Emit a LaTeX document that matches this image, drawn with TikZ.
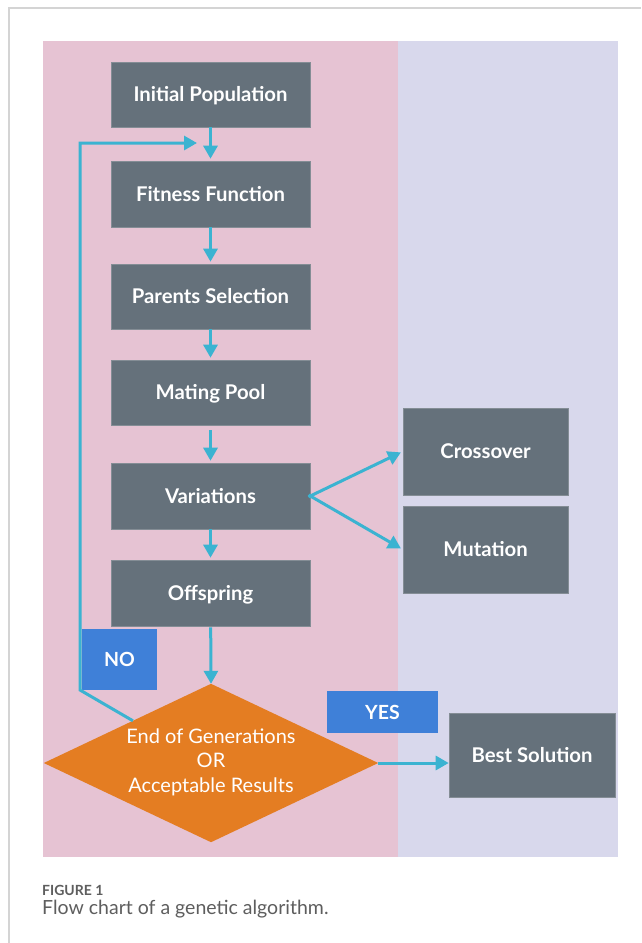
\documentclass[tikz,border=0pt]{standalone}
\usepackage{fontspec}
\setmainfont{Lato}
\usetikzlibrary{arrows.meta,calc}
\definecolor{pinkbg}{HTML}{E6C3D3}
\definecolor{lavbg}{HTML}{D8D8EC}
\definecolor{boxgray}{HTML}{65717B}
\definecolor{lblue}{HTML}{3F80D8}
\definecolor{dorange}{HTML}{E47D22}
\definecolor{arrowc}{HTML}{3BB3D1}
\definecolor{captc}{HTML}{5E5E5E}
\definecolor{framec}{HTML}{D4D4D4}
\begin{document}
\begin{tikzpicture}[x=1pt,y=-1pt,
  stepbox/.style={rectangle, fill=boxgray, draw=boxgray!80!white, line width=0.6pt, text=white,
    font=\fontsize{20.3}{24}\selectfont\bfseries, inner sep=0pt, text height=14.6pt, text depth=0pt},
  tagbox/.style={rectangle, fill=lblue, text=white, font=\fontsize{19.5}{23}\selectfont\bfseries,
    inner sep=0pt, text height=14pt, text depth=0pt},
  flow/.style={draw=arrowc, line width=3pt, -{Triangle[length=13pt,width=14pt]}},
]
\useasboundingbox (0,0) rectangle (641,943);
\fill[white] (0,0) rectangle (641,943);
\draw[framec, line width=1.5pt] (9,943) -- (9,8) -- (641,8);
\fill[pinkbg] (43,41) rectangle (398,857);
\fill[lavbg] (398,41) rectangle (618,857);

% main column
\node[stepbox, minimum width=199pt, minimum height=65pt] (init) at (210.5,94.5) {Initial Population};
\node[stepbox, minimum width=199pt, minimum height=66pt] (fit) at (210.5,194) {Fitness Function};
\node[stepbox, minimum width=199pt, minimum height=65pt] (par) at (210.5,296.5) {Parents Selection};
\node[stepbox, minimum width=199pt, minimum height=65pt] (mat) at (210.5,392.5) {Mating Pool};
\node[stepbox, minimum width=199pt, minimum height=66pt] (var) at (210.5,496) {Variations};
\node[stepbox, minimum width=199pt, minimum height=66pt] (off) at (210.5,593) {Offspring};

% right column
\node[stepbox, minimum width=165pt, minimum height=87pt] (cross) at (485.5,451.5) {Crossover};
\node[stepbox, minimum width=165pt, minimum height=87pt] (mut) at (485.5,549.5) {Mutation};
\node[stepbox, minimum width=166pt, minimum height=84pt] (best) at (532,755) {Best Solution};

% decision
\node[rectangle, minimum width=334pt, minimum height=158pt, inner sep=0pt] (dia) at (211,763) {};
\fill[dorange] (dia.north) -- (dia.east) -- (dia.south) -- (dia.west) -- cycle;
\node[text=white, align=center, font=\fontsize{20}{24.5}\selectfont, inner sep=0pt] (diatext) at (211,762)
  {End of Generations\\OR\\Acceptable Results};

% tags
\node[tagbox, minimum width=75pt, minimum height=61pt] (no) at (119.5,659.5) {NO};
\node[tagbox, minimum width=111pt, minimum height=42pt] (yes) at (382.5,712) {YES};

% connectors
\draw[flow, shorten >=2pt] (init) -- (fit);
\draw[flow, shorten >=2pt] (fit) -- (par);
\draw[flow, shorten >=2pt] (par) -- (mat);
\draw[flow, shorten >=2pt, shorten <=5pt] (mat) -- (var);
\draw[flow, shorten >=2pt] (var) -- (off);
\draw[flow, shorten <=1pt] (off) -- (dia.north);
\draw[flow, shorten <=-2pt, shorten >=2pt] (var.east) -- (cross.west);
\draw[flow, shorten <=-2pt, shorten >=2pt] (var.east) -- (mut.west);
\draw[flow] (dia.east) -- (dia.east -| best.west);
\coordinate (loopin) at (197,143);
\coordinate (loopout) at ($(dia.north)!0.467!(dia.west)$);
\draw[flow] (loopout) -- (80,690) -- (80,143) -- (loopin);

% caption
\node[anchor=base west, text=captc, font=\fontsize{14}{16}\selectfont\bfseries, inner sep=0pt] (figlabel) at (42,895) {FIGURE 1};
\node[anchor=base west, text=captc, font=\fontsize{19.5}{22}\selectfont, inner sep=0pt] (figcap) at (42,914) {Flow chart of a genetic algorithm.};
\end{tikzpicture}
\end{document}
